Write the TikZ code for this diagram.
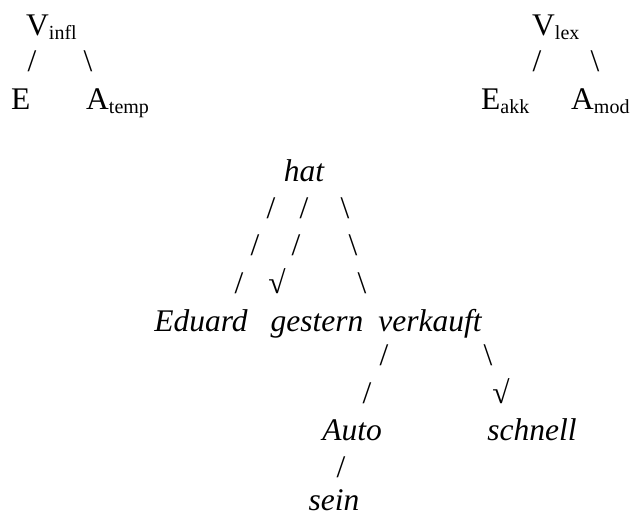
\documentclass[tikz,border=0pt]{standalone}
\usepackage{fontspec}
\setmainfont{Liberation Serif}
\newcommand{\treefont}{\fontsize{31.5}{31.5}\selectfont}
\newcommand{\lowsub}[1]{{\fontsize{20}{20}\selectfont\raisebox{-4pt}{#1}}}
\tikzset{
  cat/.style={font=\treefont, anchor=base west, inner sep=0pt},
  word/.style={font=\treefont\itshape, anchor=base, inner sep=0pt},
  bar/.style={font=\treefont, anchor=base, inner sep=0pt}
}

\begin{document}
\begin{tikzpicture}[x=1pt,y=-1pt]
  \useasboundingbox (0,0) rectangle (633,516);
  % valency frames
  \node[cat] (vinfl) at (26,36) {V\lowsub{infl}};
  \node[bar] (vinfl-e) at (32,72) {/};
  \node[bar] (vinfl-a) at (88,72) {\textbackslash};
  \node[cat] (e) at (11,110) {E};
  \node[cat] (atemp) at (86,110) {A\lowsub{temp}};
  \node[cat] (vlex) at (532,36) {V\lowsub{lex}};
  \node[bar] (vlex-e) at (537,72) {/};
  \node[bar] (vlex-a) at (595,72) {\textbackslash};
  \node[cat] (eakk) at (481,110) {E\lowsub{akk}};
  \node[cat] (amod) at (571,110) {A\lowsub{mod}};
  % sentence tree
  \node[word] (hat) at (304,182) {hat};
  \node[bar] (hat-ed1) at (271,219) {/};
  \node[bar] (hat-ge1) at (304,219) {/};
  \node[bar] (hat-ve1) at (345,219) {\textbackslash};
  \node[bar] (hat-ed2) at (255,256) {/};
  \node[bar] (hat-ge2) at (296,256) {/};
  \node[bar] (hat-ve2) at (353,256) {\textbackslash};
  \node[bar] (hat-ed3) at (239,294) {/};
  \node[bar] (hat-ge3) at (277,294) {√};
  \node[bar] (hat-ve3) at (362,294) {\textbackslash};
  \node[word] (eduard) at (201,332) {Eduard};
  \node[word] (gestern) at (317,332) {gestern};
  \node[word] (verkauft) at (430,332) {verkauft};
  \node[bar] (ve-au1) at (384,366) {/};
  \node[bar] (ve-sc1) at (488,366) {\textbackslash};
  \node[bar] (ve-au2) at (367,403) {/};
  \node[bar] (ve-sc2) at (501,403) {√};
  \node[word] (auto) at (352,440) {Auto};
  \node[word] (schnell) at (532,440) {schnell};
  \node[bar] (au-se) at (341,477) {/};
  \node[word] (sein) at (334,510) {sein};
\end{tikzpicture}
\end{document}
